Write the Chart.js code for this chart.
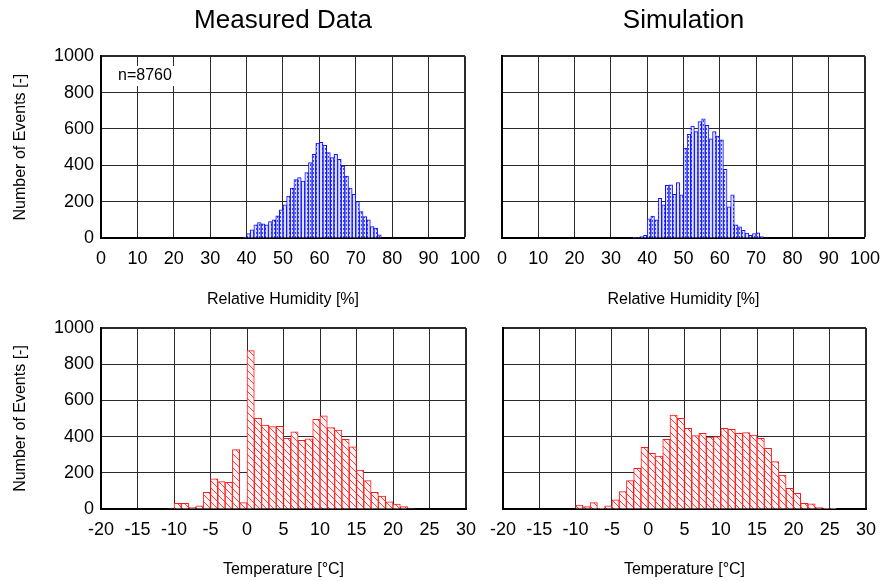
<!DOCTYPE html>
<html>
<head>
<meta charset="utf-8">
<script src="https://cdn.jsdelivr.net/npm/chart.js@4.4.0/dist/chart.umd.min.js"></script>
<style>
  html, body { margin: 0; padding: 0; background: #fff; overflow: hidden; }
  canvas { position: absolute; }
</style>
</head>
<body>
<canvas id="rhMeas" width="490" height="320" style="left:0;top:0"></canvas>
<canvas id="rhSim" width="410" height="320" style="left:480px;top:0"></canvas>
<canvas id="tMeas" width="490" height="311" style="left:0;top:270px"></canvas>
<canvas id="tSim" width="410" height="311" style="left:480px;top:270px"></canvas>
<script>
// lower bin edges (1 % and 1 °C bins)
const rhBins = [36,37,38,39,40,41,42,43,44,45,46,47,48,49,50,51,52,53,54,55,56,57,58,59,60,61,62,63,64,65,66,67,68,69,70,71,72,73,74,75,76,77];
const rhMeasured = [0,0,0,5,25,45,72,85,78,72,90,100,122,155,183,230,275,322,332,313,360,415,460,522,526,511,470,442,460,433,396,340,275,240,200,146,118,100,63,54,17,0];
const rhSimulated = [2,3,8,15,105,120,100,218,182,290,292,240,305,238,495,570,615,585,640,655,620,545,585,560,540,378,172,238,72,62,42,27,15,25,28,8,0,0,0,0,0,0];

const tempBins = [-12,-11,-10,-9,-8,-7,-6,-5,-4,-3,-2,-1,0,1,2,3,4,5,6,7,8,9,10,11,12,13,14,15,16,17,18,19,20,21,22,23,24,25,26];
const tempMeasured = [0,3,31,31,9,17,92,166,151,147,328,35,875,501,464,455,457,391,427,380,387,495,515,450,436,385,344,215,157,92,72,40,27,13,3,0,0,0,0];
const tempSimulated = [0,0,22,13,35,4,17,50,96,157,225,341,307,293,385,519,501,446,405,418,398,400,446,440,418,422,409,391,335,262,188,114,87,31,28,9,4,2,0];

const FONT = "'Liberation Sans', Arial, sans-serif";

function hatch(kind) {
  const c = document.createElement('canvas');
  const g = c.getContext('2d');
  if (kind === 'red') {
    c.width = c.height = 7;
    g.fillStyle = '#fff3f3'; g.fillRect(0, 0, 7, 7);
    g.strokeStyle = '#ff4040'; g.lineWidth = 1;
    g.beginPath();
    g.moveTo(-1, -1); g.lineTo(8, 8);
    g.moveTo(-1, 6); g.lineTo(1, 8);
    g.moveTo(6, -1); g.lineTo(8, 1);
    g.stroke();
  } else {
    c.width = 3; c.height = 4;
    g.fillStyle = '#dfe3ff'; g.fillRect(0, 0, 3, 4);
    g.fillStyle = '#3848ff'; g.fillRect(1, 0, 1, 2);
  }
  return g.createPattern(c, 'repeat');
}

// small text labels inside a panel (white box behind, like the original)
const notes = {
  id: 'notes',
  afterDraw(chart, args, opts) {
    const ctx = chart.ctx;
    ctx.save();
    ctx.textBaseline = 'middle';
    ctx.textAlign = 'center';
    (opts.items || []).forEach(t => {
      ctx.font = t.font;
      const w = ctx.measureText(t.text).width;
      ctx.fillStyle = '#fff';
      ctx.fillRect(t.x - w / 2 - 3, t.y - 10, w + 6, 20);
      ctx.fillStyle = '#000';
      ctx.fillText(t.text, t.x, t.y);
    });
    ctx.restore();
  }
};

function makeChart(id, bins, values, o) {
  const isRed = o.color === 'red';
  const data = bins.map((b, i) => ({ x: b + 0.5, y: values[i] }));
  return new Chart(document.getElementById(id), {
    type: 'bar',
    data: {
      datasets: [{
        data: data,
        backgroundColor: hatch(o.color),
        borderColor: isRed ? '#ff1a1a' : '#1010ff',
        borderWidth: 1,
        barPercentage: 1,
        categoryPercentage: 1
      }]
    },
    plugins: [notes],
    options: {
      responsive: false,
      animation: false,
      layout: { padding: { top: o.padTop, right: 24, left: 0, bottom: 0 } },
      plugins: {
        legend: { display: false },
        tooltip: { enabled: false },
        title: {
          display: !!o.title,
          text: o.title,
          fullSize: false,
          color: '#000',
          font: { family: FONT, size: 26, weight: 'normal' },
          padding: { top: 0, bottom: 20 }
        },
        notes: { items: o.notes || [] }
      },
      scales: {
        x: {
          type: 'linear',
          offset: false,
          min: o.xMin, max: o.xMax,
          ticks: {
            stepSize: o.xStep, autoSkip: false, maxRotation: 0,
            color: '#000', padding: 10,
            font: { family: FONT, size: 18 },
            callback: v => String(v)
          },
          grid: {
            offset: false,
            drawTicks: false, color: '#2a2a2a',
            lineWidth: c => (c.tick && c.tick.value === o.xMax) ? 2 : 1
          },
          border: { color: '#000', width: 2 },
          title: {
            display: true, text: o.xTitle, color: '#000',
            font: { family: FONT, size: 16 },
            padding: { top: 0, bottom: o.xTitlePad }
          },
          afterFit: s => { s.height = o.xHeight; }
        },
        y: {
          min: 0, max: 1000,
          ticks: {
            stepSize: 200, display: o.showY, color: '#000', padding: 7,
            font: { family: FONT, size: 18 },
            callback: v => String(v)
          },
          grid: {
            drawTicks: false, color: '#2a2a2a',
            lineWidth: c => (c.tick && c.tick.value === 1000) ? 2 : 1
          },
          border: { color: '#000', width: 2 },
          title: {
            display: o.showY, text: 'Number of Events [-]', color: '#000',
            font: { family: FONT, size: 16 },
            padding: { top: 11, bottom: 0 }
          },
          afterFit: s => { s.width = o.yWidth; }
        }
      }
    }
  });
}

makeChart('rhMeas', rhBins, rhMeasured, {
  color: 'blue', title: 'Measured Data', padTop: 5, showY: true, yWidth: 101,
  xMin: 0, xMax: 100, xStep: 10, xTitle: 'Relative Humidity [%]', xHeight: 82, xTitlePad: 11,
  notes: [{ text: 'n=8760', x: 145, y: 76, font: "16px 'Liberation Sans', Arial, sans-serif" }]
});
makeChart('rhSim', rhBins, rhSimulated, {
  color: 'blue', title: 'Simulation', padTop: 5, showY: false, yWidth: 22,
  xMin: 0, xMax: 100, xStep: 10, xTitle: 'Relative Humidity [%]', xHeight: 82, xTitlePad: 11
});
makeChart('tMeas', tempBins, tempMeasured, {
  color: 'red', title: '', padTop: 58, showY: true, yWidth: 101,
  xMin: -20, xMax: 30, xStep: 5, xTitle: 'Temperature [°C]', xHeight: 72, xTitlePad: 2
});
makeChart('tSim', tempBins, tempSimulated, {
  color: 'red', title: '', padTop: 58, showY: false, yWidth: 22,
  xMin: -20, xMax: 30, xStep: 5, xTitle: 'Temperature [°C]', xHeight: 72, xTitlePad: 2
});
</script>
</body>
</html>
